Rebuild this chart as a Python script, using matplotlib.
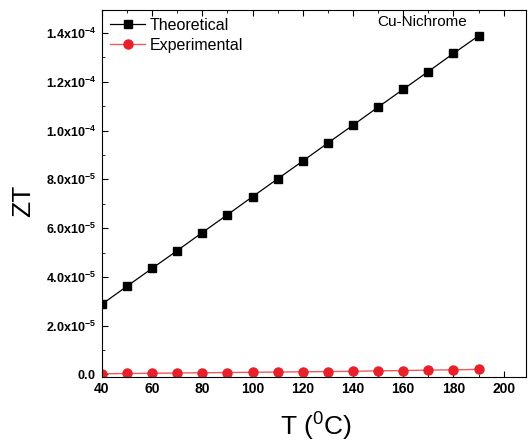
import numpy as np
import matplotlib
matplotlib.use("Agg")
import matplotlib.pyplot as plt
from matplotlib.ticker import FuncFormatter, MultipleLocator

plt.rcParams["font.family"] = ["Liberation Sans", "DejaVu Sans"]
plt.rcParams["mathtext.fontset"] = "custom"
plt.rcParams["mathtext.rm"] = "Liberation Sans"
plt.rcParams["mathtext.it"] = "Liberation Sans:italic"
plt.rcParams["mathtext.bf"] = "Liberation Sans:bold"

# temperature (deg C)
temps = [40, 50, 60, 70, 80, 90, 100, 110, 120, 130, 140, 150, 160, 170, 180, 190]
# ZT values, units of 1e-5
zt_theory = [2.88, 3.62, 4.35, 5.08, 5.82, 6.55, 7.29, 8.02, 8.75, 9.49, 10.22,
             10.96, 11.69, 12.42, 13.16, 13.88]
zt_exp = [0.03, 0.04, 0.05, 0.06, 0.07, 0.08, 0.09, 0.10, 0.11, 0.12, 0.13,
          0.15, 0.16, 0.18, 0.19, 0.21]

x = np.array(temps)
y_th = np.array(zt_theory) * 1e-5
y_ex = np.array(zt_exp) * 1e-5

fig = plt.figure(figsize=(5.31, 4.45), dpi=100)
ax = fig.add_axes([0.192, 0.153, 0.799, 0.825])

ax.plot(x, y_th, color="black", lw=0.9, marker="s", ms=5.5, label="Theoretical")
ax.plot(x, y_ex, color="#f05a5a", lw=1.0, marker="o", ms=6.5,
        mfc="#e8202a", mec="#e8202a", label="Experimental")

ax.set_xlim(40, 209)
ax.set_ylim(-0.1e-5, 14.95e-5)

ax.xaxis.set_major_locator(MultipleLocator(20))
ax.xaxis.set_minor_locator(MultipleLocator(10))
ax.yaxis.set_major_locator(MultipleLocator(2e-5))
ax.yaxis.set_minor_locator(MultipleLocator(1e-5))


def sci_fmt(v, pos):
    if abs(v) < 1e-12:
        return r"$\mathbf{0.0}$"
    exp = int(np.floor(np.log10(abs(v))))
    mant = v / 10 ** exp
    return r"$\mathbf{%.1fx10^{%d}}$" % (mant, exp)


ax.yaxis.set_major_formatter(FuncFormatter(sci_fmt))
ax.tick_params(axis="both", which="both", direction="in", top=True, right=False)
ax.tick_params(axis="both", which="major", length=4)
ax.tick_params(axis="both", which="minor", length=2.5)
ax.tick_params(axis="x", labelsize=10)
ax.tick_params(axis="y", labelsize=9, pad=4)
for lab in ax.get_xticklabels():
    lab.set_fontweight("bold")

ax.set_xlabel(r"T ($^0$C)", fontsize=19)
ax.set_ylabel("ZT", fontsize=19)
ax.xaxis.set_label_coords(0.505, -0.093)
ax.yaxis.set_label_coords(-0.158, 0.48)

ax.text(0.755, 0.985, "Cu-Nichrome", transform=ax.transAxes, ha="center",
        va="top", fontsize=11)

ax.legend(loc="upper left", frameon=False, fontsize=11.5, handlelength=2.2,
          borderaxespad=0.1, handletextpad=0.3, labelspacing=0.3)

fig.savefig("out.png", dpi=100)
